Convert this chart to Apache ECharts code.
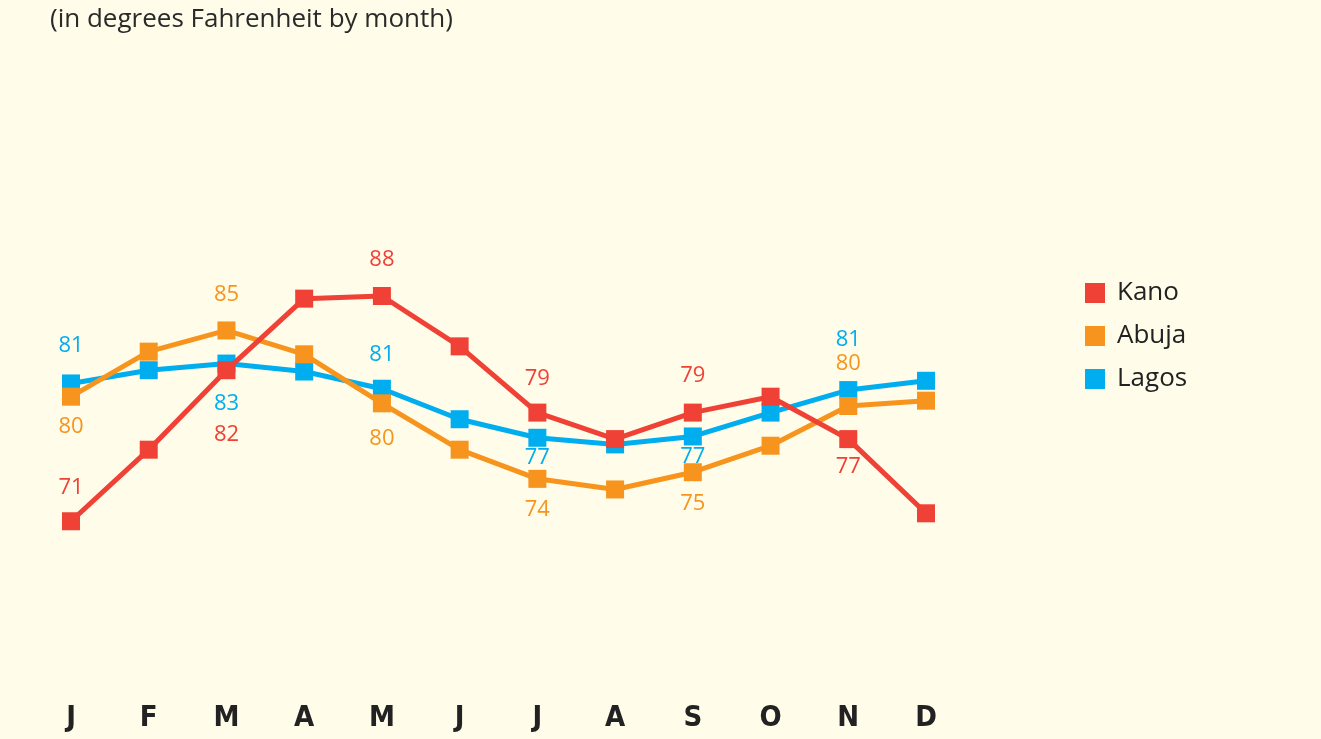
<!DOCTYPE html>
<html><head><meta charset="utf-8">
<script src="https://cdn.jsdelivr.net/npm/echarts@6/dist/echarts.min.js"></script>
<style>html,body{margin:0;padding:0;background:#FFFCE9;}#c{width:1321px;height:739px;}</style>
</head><body><div id="c"></div>
<script>
const months = ['J','F','M','A','M','J','J','A','S','O','N','D'];
const kano  = [71.0, 76.4, 82.4, 87.8, 88.0, 84.2, 79.2, 77.2, 79.2, 80.4, 77.2, 71.6];
const abuja = [80.4, 83.8, 85.4, 83.6, 79.9, 76.4, 74.2, 73.4, 74.7, 76.7, 79.7, 80.1];
const lagos = [81.4, 82.4, 82.9, 82.3, 81.0, 78.7, 77.3, 76.8, 77.4, 79.2, 80.9, 81.6];
const seriesNames = ['Kano','Abuja','Lagos'];
const colors = {Kano:'#EF4136', Abuja:'#F7941D', Lagos:'#00AEEF'};

// label placement: [index, position, distance]
const labelPlacement = {
  Kano:  [[0,'top',14],[2,'bottom',45],[4,'top',16],[6,'top',14],[8,'top',17],[10,'bottom',8]],
  Abuja: [[0,'bottom',10],[2,'top',16],[4,'bottom',15],[6,'bottom',11],[8,'bottom',12],[10,'top',22]],
  Lagos: [[0,'top',18],[2,'bottom',20],[4,'top',14],[6,'bottom',0],[8,'bottom',0],[10,'top',30]]
};

function buildData(name, vals){
  const lp = {};
  labelPlacement[name].forEach(p => lp[p[0]] = p);
  return vals.map((v,i) => {
    if (lp[i]) {
      return {value: v, label: {show: true, position: lp[i][1], distance: lp[i][2]}};
    }
    return {value: v};
  });
}
function mkSeries(name, vals, z){
  return {
    name: name, type: 'line', data: buildData(name, vals), z: z,
    symbol: 'rect', symbolSize: 18,
    lineStyle: {width: 5, color: colors[name]},
    itemStyle: {color: colors[name]},
    label: {show: false, color: colors[name], fontSize: 22, fontFamily: 'Open Sans',
            formatter: p => Math.round(p.value)},
    emphasis: {disabled: true},
    animation: false
  };
}
const chart = echarts.init(document.getElementById('c'));
chart.setOption({
  backgroundColor: '#FFFCE9',
  animation: false,
  title: {text: '(in degrees Fahrenheit by month)', left: 45, top: 2,
          textStyle: {fontFamily: 'Open Sans', fontSize: 26, fontWeight: 'normal', color: '#2a2a2a'}},
  legend: {
    data: ['Kano','Abuja','Lagos'], orient: 'vertical', left: 1080, top: 275,
    icon: 'rect', itemWidth: 20, itemHeight: 20, itemGap: 17,
    textStyle: {fontFamily: 'Open Sans', fontSize: 26, color: '#222', padding: [0,0,0,7]}
  },
  grid: {left: 71, right: 395, top: 137, height: 530},
  xAxis: {
    type: 'category', data: months, boundaryGap: false,
    axisLine: {show: false}, axisTick: {show: false}, splitLine: {show: false},
    axisLabel: {fontFamily: 'DejaVu Sans', fontSize: 29, color: '#222', margin: 37, fontWeight: 'bold condensed'}
  },
  yAxis: {type: 'value', min: 60, max: 100, show: false},
  series: [mkSeries('Lagos', lagos, 2), mkSeries('Abuja', abuja, 3), mkSeries('Kano', kano, 4)]
});
</script></body></html>
